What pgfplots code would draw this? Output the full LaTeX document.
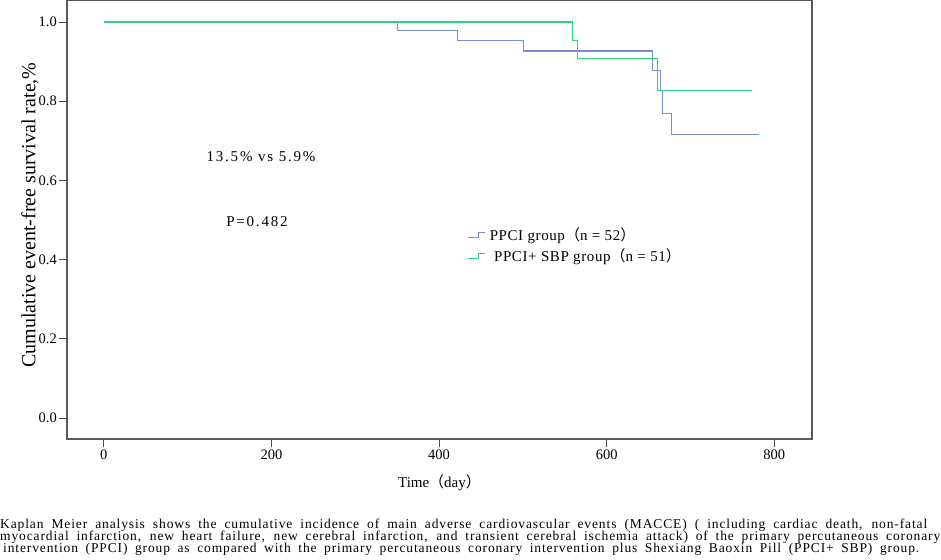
\documentclass[border=0pt]{standalone}
\usepackage{pgfplots}
\pgfplotsset{compat=1.18}
\usepackage{fontspec}
\setmainfont{Liberation Serif}
\newfontfamily\cjk{Noto Sans CJK SC}
\newfontfamily\spaced[LetterSpace=12]{Liberation Serif}
\newfontfamily\capfont[LetterSpace=6.5]{Liberation Serif}
\newfontfamily\legfont[LetterSpace=4]{Liberation Serif}
\definecolor{kmblue}{RGB}{118,143,210}
\definecolor{kmgreen}{RGB}{40,212,130}
\newcommand{\lp}{{\cjk （}}
\newcommand{\rp}{{\cjk ）}}
\begin{document}
\begin{tikzpicture}[x=1pt,y=1pt]
\useasboundingbox (0,0) rectangle (941,559);
\begin{axis}[
  at={(67pt,120pt)}, anchor=south west,
  scale only axis, width=745pt, height=439pt,
  xmin=-44, xmax=845, ymin=-0.053, ymax=1.0556,
  xtick={0,200,400,600,800}, ytick={0,0.2,0.4,0.6,0.8,1.0},
  tick align=outside, tick pos=left,
  major tick length=8pt,
  tick style={black!70, line width=0.9pt},
  axis line style={draw=black!65, line width=1.2pt},
  /pgf/number format/assume math mode=true,
  yticklabel style={/pgf/number format/fixed, /pgf/number format/fixed zerofill, /pgf/number format/precision=1, font=\fontsize{14.5}{17}\selectfont, inner sep=2pt},
  xticklabel style={font=\fontsize{14.5}{17}\selectfont, inner sep=3pt},
  scaled y ticks=false,
  ylabel={Cumulative event-free survival rate,\%},
  ylabel style={font=\fontsize{20}{24}\selectfont, at={(axis description cs:-0.0497,0.51)}, anchor=center},
  xlabel={Time\lp day\rp},
  xlabel style={font=\fontsize{15}{18}\selectfont, at={(axis description cs:0.5,-0.1)}, anchor=center},
  legend style={at={(axis cs:434,0.487)}, anchor=north west, draw=none, fill=none, inner sep=0pt, row sep=3pt, font=\legfont\fontsize{15}{18}\selectfont, nodes={inner sep=2pt}},
  legend cell align=left,
  legend image code/.code={\draw[#1, line width=1pt] (0pt,-2.5pt) -- (10pt,-2.5pt) -- (10pt,2.5pt) -- (17pt,2.5pt);},
]
\addplot[const plot, kmblue, line width=1.2pt] coordinates {(0,1)(350,0.978)(422,0.954)(501,0.927)(655,0.878)(664,0.827)(667,0.768)(677,0.715)(782,0.715)};
\addlegendentry{\hspace{2pt}PPCI group\lp n = 52\rp}
\addplot[const plot, kmgreen, line width=1.2pt] coordinates {(0,1)(559,0.954)(565,0.908)(661,0.827)(773,0.827)};
\addlegendentry{\hspace{2pt}\ PPCI+ SBP group\lp n = 51\rp}
\node[font=\spaced\fontsize{15}{18}\selectfont] at (axis cs:187.5,0.659) {13.5\% vs 5.9\%};
\node[font=\spaced\fontsize{15}{18}\selectfont] at (axis cs:182.7,0.495) {P=0.482};
\end{axis}
\node[anchor=base west, inner sep=0pt, font=\capfont\fontsize{13.5}{13.5}\selectfont] at (0,31) {\makebox[927pt][s]{Kaplan Meier analysis shows the cumulative incidence of main adverse cardiovascular events (MACCE) ( including cardiac death, non-fatal}};
\node[anchor=base west, inner sep=0pt, font=\capfont\fontsize{13.5}{13.5}\selectfont] at (0,19) {\makebox[940pt][s]{myocardial infarction, new heart failure, new cerebral infarction, and transient cerebral ischemia attack) of the primary percutaneous coronary}};
\node[anchor=base west, inner sep=0pt, font=\capfont\fontsize{13.5}{13.5}\selectfont] at (3,7) {\makebox[916pt][s]{intervention (PPCI) group as compared with the primary percutaneous coronary intervention plus Shexiang Baoxin Pill (PPCI+ SBP) group.}};
\end{tikzpicture}
\end{document}
